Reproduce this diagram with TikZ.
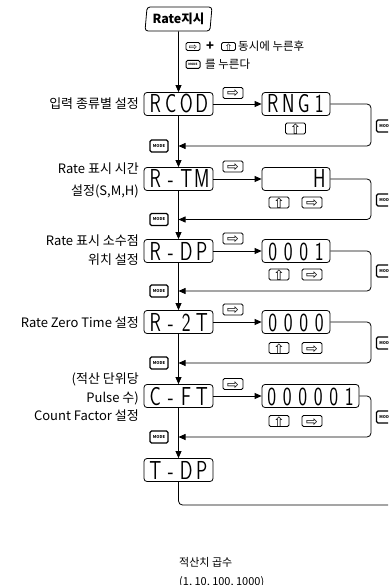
\documentclass[tikz,border=0pt]{standalone}
\usepackage{fontspec}
\setmainfont{Noto Sans CJK KR}
\newfontfamily\symf{DejaVu Sans}
\usetikzlibrary{shapes.geometric,arrows.meta}
\newcommand{\sg}[1]{\makebox[15.5pt]{\scalebox{0.72}[1]{#1}}}
\tikzset{
  disp/.style={draw, line width=0.8pt, rounded corners=3pt, inner sep=0pt, minimum height=23pt, text height=18pt, text depth=0pt, font=\sffamily\fontsize{26}{26}\selectfont},
  keyb/.style={draw, line width=0.9pt, rounded corners=1.5pt, fill=white, minimum width=20pt, minimum height=11pt, text width=20pt, text height=8pt, text depth=0pt, align=center, inner sep=0pt, font=\symf\fontsize{14}{14}\selectfont},
  modek/.style={draw, line width=1.3pt, rounded corners=1.5pt, fill=white, minimum width=18pt, minimum height=12pt, inner sep=0pt, font=\fontsize{4}{4}\selectfont\bfseries},
  lbl/.style={anchor=east, align=right, inner sep=0pt},
  arr/.style={-{Triangle[length=7pt,width=6pt]}, line width=0.8pt},
  ln/.style={line width=0.8pt}
}
\newcommand{\kr}{\raisebox{-1pt}{⇨}}
\newcommand{\ku}{\raisebox{-2pt}{⇧}}
\begin{document}
\begin{tikzpicture}[x=1pt,y=-1pt]
\useasboundingbox (0,0) rectangle (388,585);
\clip (0,0) rectangle (388,585);
% start
\node[draw, trapezium, trapezium left angle=80, trapezium right angle=100, trapezium stretches body, minimum width=67pt, minimum height=24pt, rounded corners=3pt, line width=0.8pt, inner sep=0pt, font=\fontsize{12.5}{12.5}\selectfont\bfseries] (start) at (178.5,19) {Rate지시};
% top instructions
\node[keyb, minimum width=14pt, text width=14pt, minimum height=8pt, text height=6pt, line width=0.8pt, font=\symf\fontsize{10}{10}\selectfont] (k0a) at (193,46.5) {\kr};
\node[font=\fontsize{13}{13}\selectfont\bfseries, inner sep=0pt] (plus) at (210,46) {+};
\node[keyb, minimum width=14pt, text width=14pt, minimum height=8pt, text height=6pt, line width=0.8pt, font=\symf\fontsize{10}{10}\selectfont] (k0b) at (228.5,46.5) {\ku};
\node[anchor=west, inner sep=0pt, font=\fontsize{11.5}{11.5}\selectfont] (t0a) at (238,46) {동시에 누른후};
\node[modek, minimum width=14pt, minimum height=8pt, line width=1pt, font=\fontsize{3}{3}\selectfont\bfseries] (k0c) at (193,64.5) {MODE};
\node[anchor=west, inner sep=0pt, font=\fontsize{11.5}{11.5}\selectfont] (t0b) at (205,64.5) {를 누른다};
% main column
\node[disp, minimum width=69pt] (rcod) at (178.5,104) {\sg{R}\sg{C}\sg{O}\sg{D}};
\node[disp, minimum width=69pt] (rtm) at (178.5,179) {\sg{R}\sg{-}\sg{T}\sg{M}};
\node[disp, minimum width=69pt] (rdp) at (178.5,251) {\sg{R}\sg{-}\sg{D}\sg{P}};
\node[disp, minimum width=69pt] (r2t) at (178.5,322) {\sg{R}\sg{-}\sg{2}\sg{T}};
\node[disp, minimum width=69pt] (cft) at (178.5,396) {\sg{C}\sg{-}\sg{F}\sg{T}};
\node[disp, minimum width=69pt] (tdp) at (178.5,470) {\sg{T}\sg{-}\sg{D}\sg{P}};
% right column
\node[disp, minimum width=68pt] (rng) at (296,104) {\sg{R}\sg{N}\sg{G}\sg{1}};
\node[disp, minimum width=68pt] (hh) at (296,179) {\sg{}\sg{}\sg{}\sg{H}};
\node[disp, minimum width=68pt] (d1) at (296,251) {\sg{0}\sg{0}\sg{0}\sg{1}};
\node[disp, minimum width=68pt] (d0) at (296,322) {\sg{0}\sg{0}\sg{0}\sg{0}};
\node[disp, minimum width=97pt] (d6) at (310.5,396) {\sg{0}\sg{0}\sg{0}\sg{0}\sg{0}\sg{1}};
% labels
\node[lbl, font=\fontsize{13}{14}\selectfont] (l1) at (139,104) {입력 종류별 설정};
\node[lbl, font=\fontsize{13}{22}\selectfont] (l2) at (139,180) {Rate 표시 시간\\설정(S,M,H)};
\node[lbl, font=\fontsize{13}{19}\selectfont] (l3) at (139,250.5) {Rate 표시 소수점\\위치 설정};
\node[lbl, font=\fontsize{13}{14}\selectfont] (l4) at (139,323) {Rate Zero Time 설정};
\node[lbl, font=\fontsize{13}{18.5}\selectfont] (l5) at (139,397.5) {(적산 단위당\\Pulse 수)\\Count Factor 설정};
% down arrows
\draw[arr] (start.south) -- (rcod.north);
\draw[arr] (rcod.south) -- (rtm.north);
\draw[arr] (rtm.south) -- (rdp.north);
\draw[arr] (rdp.south) -- (r2t.north);
\draw[arr] (r2t.south) -- (cft.north);
\draw[arr] (cft.south) -- (tdp.north);
% right arrows
\draw[arr] (rcod.east) -- (rng.west);
\draw[arr] (rtm.east) -- (hh.west);
\draw[arr] (rdp.east) -- (d1.west);
\draw[arr] (r2t.east) -- (d0.west);
\draw[arr] (cft.east) -- (d6.west);
% keys above arrows
\node[keyb] (ka1) at (233,93) {\kr};
\node[keyb] (ka2) at (233,166.5) {\kr};
\node[keyb] (ka3) at (233,238.5) {\kr};
\node[keyb] (ka4) at (233,309.5) {\kr};
\node[keyb] (ka5) at (233,384) {\kr};
% keys below
\node[keyb] (kb1) at (295.5,128.5) {\ku};
\node[keyb] (kb2u) at (279,202.5) {\ku};
\node[keyb] (kb2r) at (312,202.5) {\kr};
\node[keyb] (kb3u) at (279,274.5) {\ku};
\node[keyb] (kb3r) at (312,274.5) {\kr};
\node[keyb] (kb4u) at (279,348) {\ku};
\node[keyb] (kb4r) at (312,348) {\kr};
\node[keyb] (kb5u) at (279,421) {\ku};
\node[keyb] (kb5r) at (312,421) {\kr};
% return loops
\coordinate (c1) at (371,146);
\coordinate (c2) at (371,219.5);
\coordinate (c3) at (371,291);
\coordinate (c4) at (371,363);
\coordinate (c5) at (371,437);
\draw[arr, rounded corners=4pt] (rng.east) -| (c1) -- (rcod.south |- c1);
\draw[arr, rounded corners=4pt] (hh.east) -| (c2) -- (rtm.south |- c2);
\draw[arr, rounded corners=4pt] (d1.east) -| (c3) -- (rdp.south |- c3);
\draw[arr, rounded corners=4pt] (d0.east) -| (c4) -- (r2t.south |- c4);
\draw[arr, rounded corners=4pt] (d6.east) -| (c5) -- (cft.south |- c5);
% MODE keys
\node[modek] (ml1) at (159,146) {MODE};
\node[modek] (ml2) at (159,219.5) {MODE};
\node[modek] (ml3) at (159,291) {MODE};
\node[modek] (ml4) at (159,363) {MODE};
\node[modek] (ml5) at (159,437) {MODE};
\node[modek] (mr1) at (385.5,126) {MODE};
\node[modek] (mr2) at (385.5,200) {MODE};
\node[modek] (mr3) at (385.5,271) {MODE};
\node[modek] (mr4) at (385.5,343) {MODE};
\node[modek] (mr5) at (385.5,417) {MODE};
% bottom loop
\coordinate (e) at (400,505);
\draw[ln, rounded corners=4pt] (tdp.south) |- (e);
% bottom text
\node[anchor=west, inner sep=0pt, font=\fontsize{11}{11}\selectfont] (b1) at (179,562) {적산치 곱수};
\node[anchor=west, inner sep=0pt, font=\fontsize{11}{11}\selectfont] (b2) at (179,582) {(1, 10, 100, 1000)};
\end{tikzpicture}
\end{document}
